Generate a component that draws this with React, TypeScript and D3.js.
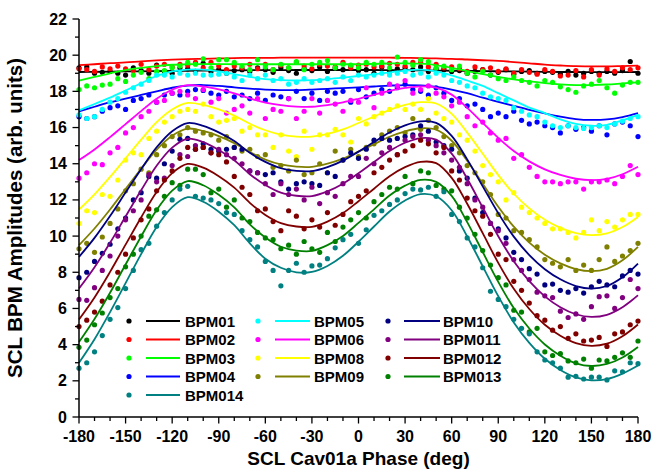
import React from 'react';
import * as d3 from 'd3';

// phases of the fitted curves and of the measured points (deg)
const fitPhase = [
  -180, -170, -160, -150, -140, -130, -120, -110, -100, -90,
  -80, -70, -60, -50, -40, -30, -20, -10, 0, 10,
  20, 30, 40, 50, 60, 70, 80, 90, 100, 110,
  120, 130, 140, 150, 160, 170, 180,
];
const dotPhase = [
  -180, -175, -170, -165, -160, -155, -150, -145, -140, -135, -130, -125,
  -120, -115, -110, -105, -100, -95, -90, -85, -80, -75, -70, -65,
  -60, -55, -50, -45, -40, -35, -30, -25, -20, -15, -10, -5,
  0, 5, 10, 15, 20, 25, 30, 35, 40, 45, 50, 55,
  60, 65, 70, 75, 80, 85, 90, 95, 100, 105, 110, 115,
  120, 125, 130, 135, 140, 145, 150, 155, 160, 165, 170, 175,
  180,
];

const bpm01Fit = [
  19.07, 19.08, 19.09, 19.1, 19.11, 19.12, 19.13, 19.14, 19.15, 19.16,
  19.16, 19.17, 19.17, 19.17, 19.18, 19.18, 19.18, 19.18, 19.18, 19.18,
  19.17, 19.17, 19.16, 19.15, 19.14, 19.13, 19.12, 19.11, 19.1, 19.09,
  19.08, 19.07, 19.07, 19.06, 19.06, 19.06, 19.07,
];
const bpm01Dots = [
  19.3, 19.35, 19.0, 19.05, 19.1, 19.0, 18.9, 19.3, 19.15, 19.0, 19.45, 19.1,
  19.0, 19.3, 19.25, 19.1, 19.55, 19.1, 19.2, 19.0, 19.15, 19.2, 19.1, 19.3,
  19.2, 19.05, 19.3, 19.15, 19.0, 19.25, 19.15, 19.35, 19.1, 19.3, 19.2, 19.4,
  19.15, 19.2, 19.0, 19.35, 19.1, 19.25, 19.3, 19.2, 19.35, 19.1, 19.25, 19.2,
  19.1, 19.15, 19.0, 19.1, 19.2, 18.9, 19.05, 19.2, 18.95, 19.1, 19.15, 19.0,
  19.1, 19.05, 18.95, 19.1, 18.9, 19.0, 19.1, 19.0, 19.1, 19.0, 19.15, 19.65,
  19.0,
];

const bpm02Fit = [
  19.45, 19.5, 19.56, 19.6, 19.66, 19.71, 19.75, 19.78, 19.8, 19.82,
  19.84, 19.85, 19.85, 19.86, 19.86, 19.86, 19.86, 19.86, 19.86, 19.86,
  19.86, 19.85, 19.84, 19.82, 19.8, 19.76, 19.72, 19.68, 19.62, 19.55,
  19.48, 19.43, 19.39, 19.38, 19.38, 19.4, 19.42,
];
const bpm02Dots = [
  19.25, 19.2, 19.1, 19.35, 19.25, 19.4, 19.25, 19.15, 19.5, 19.2, 19.4, 19.5,
  19.35, 19.5, 19.45, 19.6, 19.3, 19.6, 19.4, 19.2, 19.4, 19.3, 19.5, 19.25,
  19.5, 19.2, 19.45, 19.3, 19.6, 19.4, 19.25, 19.5, 19.4, 19.35, 19.6, 19.3,
  19.45, 19.5, 19.35, 19.4, 19.55, 19.5, 19.4, 19.6, 19.6, 19.35, 19.5, 19.3,
  19.35, 19.25, 19.1, 19.35, 19.2, 19.3, 19.1, 19.25, 19.0, 19.2, 19.05, 18.95,
  19.2, 19.1, 18.85, 18.9, 19.15, 18.8, 19.2, 18.9, 19.25, 19.1, 19.3, 19.2,
  19.3,
];

const bpm03Fit = [
  18.59, 18.8, 19.0, 19.18, 19.3, 19.4, 19.47, 19.5, 19.51, 19.51,
  19.5, 19.5, 19.5, 19.5, 19.5, 19.5, 19.5, 19.5, 19.5, 19.52,
  19.54, 19.55, 19.53, 19.45, 19.3, 19.12, 18.95, 18.8, 18.66, 18.55,
  18.46, 18.39, 18.35, 18.35, 18.38, 18.44, 18.5,
];
const bpm03Dots = [
  18.1, 18.3, 18.2, 18.35, 18.4, 18.7, 18.55, 18.9, 19.05, 18.7, 19.1, 19.15,
  19.3, 19.4, 19.6, 19.5, 19.8, 19.3, 19.75, 19.75, 19.6, 19.4, 19.2, 19.75,
  19.35, 19.2, 19.5, 19.3, 19.65, 19.2, 19.5, 19.6, 19.7, 19.3, 19.5, 19.45,
  19.3, 19.6, 19.5, 19.6, 19.3, 19.9, 19.6, 19.45, 19.75, 19.65, 19.3, 19.4,
  19.2, 19.4, 19.0, 18.8, 19.1, 18.9, 18.7, 18.6, 18.8, 18.6, 18.5, 18.3,
  18.6, 18.5, 18.25, 18.1, 17.95, 18.3, 18.4, 18.6, 18.2, 17.9, 18.35, 18.5,
  18.5,
];

const bpm04Fit = [
  16.9, 17.15, 17.4, 17.6, 17.8, 18.0, 18.2, 18.32, 18.35, 18.3,
  18.22, 18.15, 18.1, 18.07, 18.07, 18.1, 18.14, 18.18, 18.22, 18.27,
  18.32, 18.35, 18.33, 18.25, 18.1, 17.9, 17.65, 17.42, 17.2, 16.98,
  16.78, 16.6, 16.47, 16.42, 16.45, 16.58, 16.8,
];
const bpm04Dots = [
  16.6, 16.5, 16.6, 16.9, 17.1, 17.2, 17.0, 17.5, 17.6, 17.8, 17.4, 17.8,
  17.9, 17.8, 18.0, 18.1, 18.05, 17.9, 17.8, 18.0, 17.7, 17.8, 17.6, 17.9,
  17.5, 17.8, 17.7, 17.6, 18.0, 17.6, 17.9, 17.5, 18.0, 17.9, 18.0, 17.4,
  18.1, 17.7, 17.9, 18.1, 18.0, 18.2, 18.4, 18.1, 18.0, 17.8, 18.2, 17.9,
  17.5, 17.6, 17.2, 17.3, 17.0, 16.6, 16.8, 16.6, 16.9, 16.4, 16.2, 16.3,
  16.1, 16.0, 15.7, 16.1, 15.9, 16.0, 15.8, 16.1, 15.6, 16.2, 16.3, 16.1,
  15.5,
];

const bpm05Fit = [
  16.95, 17.3, 17.65, 18.05, 18.45, 18.85, 19.1, 19.2, 19.2, 19.1,
  18.95, 18.8, 18.68, 18.62, 18.6, 18.62, 18.68, 18.76, 18.85, 18.95,
  19.05, 19.15, 19.2, 19.1, 18.88, 18.6, 18.3, 17.9, 17.5, 17.1,
  16.8, 16.45, 16.2, 16.1, 16.15, 16.4, 16.7,
];
const bpm05Dots = [
  16.7, 16.5, 16.6, 17.0, 17.4, 17.6, 17.95, 18.2, 18.4, 18.6, 18.9, 18.9,
  18.8, 19.0, 18.9, 19.0, 18.9, 18.9, 18.95, 19.0, 18.8, 18.6, 18.9, 18.7,
  18.9, 18.6, 18.7, 18.4, 18.5, 18.7, 18.5, 18.6, 18.7, 18.5, 18.8, 18.6,
  18.9, 18.8, 18.9, 19.0, 18.9, 19.0, 19.1, 18.9, 19.0, 18.8, 19.0, 18.9,
  18.6, 18.5, 18.3, 18.2, 17.9, 17.7, 17.6, 17.5, 17.1, 16.9, 16.7, 16.6,
  16.3, 16.1, 16.0, 16.1, 16.0, 15.95, 16.0, 16.1, 16.0, 16.2, 16.35, 16.5,
  16.6,
];

const bpm06Fit = [
  14.2, 14.79, 15.47, 16.19, 16.91, 17.59, 18.09, 18.34, 18.27, 18.11,
  17.89, 17.61, 17.38, 17.24, 17.16, 17.15, 17.24, 17.39, 17.59, 17.81,
  18.03, 18.19, 18.28, 18.21, 17.82, 17.09, 16.26, 15.43, 14.7, 14.13,
  13.69, 13.38, 13.17, 13.09, 13.16, 13.42, 13.83,
];
const bpm06Dots = [
  13.2, 13.5, 14.0, 13.95, 14.6, 14.9, 15.7, 16.0, 16.6, 16.9, 17.4, 17.5,
  17.9, 18.0, 17.8, 17.6, 18.1, 17.4, 17.6, 16.8, 17.0, 17.2, 16.8, 17.6,
  16.5, 17.0, 16.9, 17.6, 16.5, 16.9, 17.6, 16.8, 17.5, 17.3, 16.9, 17.5,
  17.4, 18.2, 17.1, 17.9, 18.4, 18.3, 18.6, 17.9, 18.1, 18.3, 17.9, 17.7,
  17.2, 17.4, 16.6, 16.1, 16.3, 15.7, 15.3, 15.4, 14.3, 14.5, 13.8, 13.3,
  13.0, 13.0, 12.9, 13.0, 13.0, 12.6, 13.0, 13.0, 13.1, 12.9, 13.3, 13.9,
  13.4,
];

const bpm08Fit = [
  11.47, 12.31, 13.27, 14.3, 15.33, 16.3, 17.0, 17.36, 17.25, 17.0,
  16.66, 16.21, 15.85, 15.61, 15.5, 15.5, 15.65, 15.9, 16.25, 16.61,
  16.98, 17.25, 17.4, 17.33, 16.76, 15.72, 14.55, 13.37, 12.34, 11.53,
  10.9, 10.45, 10.16, 10.05, 10.15, 10.5, 11.06,
];
const bpm08Dots = [
  10.7, 11.4, 11.3, 12.3, 12.2, 13.1, 14.2, 14.6, 14.5, 15.4, 15.8, 16.3,
  16.6, 16.9, 17.0, 16.9, 17.3, 16.6, 16.3, 16.4, 16.5, 15.8, 16.0, 15.6,
  15.6, 14.9, 15.6, 14.7, 14.4, 15.8, 14.8, 15.6, 15.6, 15.9, 15.6, 15.2,
  16.5, 16.2, 16.6, 16.8, 17.0, 17.2, 17.0, 17.3, 17.0, 17.6, 16.8, 16.5,
  16.3, 15.6, 15.3, 14.7, 13.9, 13.4, 13.0, 12.0, 12.4, 11.6, 11.3, 11.0,
  10.7, 10.4, 10.4, 10.2, 9.9, 10.2, 10.9, 10.3, 10.8, 10.5, 10.9, 11.2,
  11.2,
];

const bpm09Fit = [
  9.5, 10.42, 11.47, 12.6, 13.72, 14.78, 15.55, 15.94, 15.81, 15.53,
  15.14, 14.64, 14.23, 13.96, 13.84, 13.83, 14.0, 14.28, 14.67, 15.08,
  15.49, 15.79, 15.96, 15.88, 15.27, 14.16, 12.89, 11.62, 10.52, 9.64,
  8.97, 8.49, 8.18, 8.06, 8.19, 8.66, 9.4,
];
const bpm09Dots = [
  9.3, 9.6, 9.1, 9.95, 10.7, 11.5, 12.5, 12.9, 13.7, 13.5, 14.5, 15.0,
  15.5, 15.6, 16.0, 15.8, 15.7, 15.6, 15.3, 15.5, 14.9, 14.7, 14.8, 14.4,
  14.5, 13.8, 13.9, 13.6, 14.2, 13.4, 13.5, 14.0, 13.5, 14.7, 14.2, 14.8,
  14.4, 14.9, 15.1, 15.6, 15.8, 16.0, 15.7, 16.5, 15.9, 16.4, 16.0, 15.5,
  15.0, 14.6, 13.9, 13.5, 13.0, 12.3, 11.2, 11.0, 10.3, 10.2, 9.8, 9.4,
  8.7, 8.5, 8.3, 8.7, 8.1, 8.4, 8.1, 8.7, 9.4, 8.6, 8.9, 9.2,
  9.6,
];

const bpm10Fit = [
  8.85, 9.9, 11.11, 12.41, 13.7, 14.91, 15.8, 16.25, 16.09, 15.73,
  15.25, 14.6, 14.1, 13.75, 13.6, 13.59, 13.81, 14.17, 14.67, 15.2,
  15.73, 16.12, 16.34, 16.26, 15.54, 14.24, 12.75, 11.27, 9.97, 8.95,
  8.17, 7.61, 7.24, 7.1, 7.24, 7.72, 8.48,
];
const bpm10Dots = [
  7.7, 8.0, 8.6, 9.05, 9.55, 10.4, 11.0, 12.0, 12.4, 13.3, 13.2, 14.0,
  14.7, 15.35, 15.4, 14.8, 15.1, 14.8, 14.7, 14.8, 14.9, 14.8, 13.6, 13.5,
  13.4, 13.5, 13.0, 12.6, 12.9, 13.0, 12.9, 12.8, 13.5, 13.3, 14.2, 14.6,
  14.3, 14.8, 15.3, 15.4, 15.3, 15.4, 15.5, 15.6, 16.1, 15.8, 15.2, 15.0,
  14.8, 13.6, 13.2, 12.1, 11.3, 10.7, 10.4, 9.9, 9.1, 8.7, 8.2, 7.9,
  7.3, 7.35, 7.0, 6.9, 7.1, 6.85, 7.2, 7.5, 7.3, 7.2, 7.8, 8.1,
  7.9,
];

const bpm011Fit = [
  7.1, 8.28, 9.63, 11.08, 12.53, 13.89, 14.89, 15.38, 15.19, 14.76,
  14.19, 13.42, 12.82, 12.4, 12.23, 12.21, 12.47, 12.89, 13.47, 14.09,
  14.7, 15.16, 15.42, 15.33, 14.56, 13.17, 11.58, 9.99, 8.61, 7.51,
  6.67, 6.07, 5.68, 5.53, 5.65, 6.07, 6.73,
];
const bpm011Dots = [
  6.5, 6.45, 7.15, 8.1, 8.9, 10.0, 10.9, 11.4, 12.0, 13.4, 13.0, 13.2,
  13.9, 14.5, 14.4, 15.0, 14.9, 14.6, 14.8, 14.5, 14.3, 14.0, 13.6, 13.5,
  12.9, 12.3, 12.9, 12.3, 12.6, 12.0, 12.7, 11.8, 12.4, 12.2, 12.9, 13.3,
  13.3, 14.3, 14.0, 14.6, 14.9, 14.5, 15.3, 15.5, 15.6, 15.3, 15.0, 14.6,
  14.2, 13.8, 12.9, 12.0, 11.6, 10.7, 10.3, 9.6, 8.7, 8.1, 7.6, 6.9,
  6.7, 6.6, 5.85, 5.5, 5.7, 5.4, 6.1, 6.65, 6.7, 6.0, 6.6, 7.6,
  7.1,
];

const bpm012Fit = [
  5.39, 6.61, 8.02, 9.53, 11.03, 12.44, 13.48, 13.99, 13.78, 13.31,
  12.68, 11.84, 11.17, 10.72, 10.53, 10.51, 10.8, 11.27, 11.93, 12.62,
  13.31, 13.81, 14.1, 14.03, 13.22, 11.79, 10.16, 8.52, 7.09, 5.97,
  5.1, 4.49, 4.08, 3.93, 4.05, 4.46, 5.11,
];
const bpm012Dots = [
  5.0, 5.35, 5.8, 6.4, 7.3, 8.0, 9.0, 9.9, 10.9, 11.5, 12.5, 13.1,
  13.6, 14.3, 14.9, 14.8, 14.9, 14.6, 14.5, 14.1, 13.3, 12.7, 12.3, 11.4,
  11.5, 10.8, 10.3, 11.4, 11.1, 10.4, 10.9, 10.5, 11.3, 10.6, 11.2, 11.9,
  12.2, 12.5, 13.5, 13.8, 14.2, 14.5, 14.7, 15.0, 15.3, 15.1, 14.6, 14.9,
  13.6, 13.1, 12.1, 11.4, 11.1, 10.1, 9.0, 8.7, 7.5, 7.0, 6.3, 5.6,
  5.35, 4.8, 5.0, 4.35, 4.6, 4.2, 4.25, 4.4, 3.9, 4.6, 4.7, 5.1,
  5.3,
];

const bpm013Fit = [
  4.15, 5.42, 6.87, 8.43, 9.98, 11.44, 12.51, 13.04, 12.81, 12.28,
  11.59, 10.65, 9.92, 9.41, 9.2, 9.18, 9.5, 10.01, 10.73, 11.48,
  12.24, 12.79, 13.11, 13.0, 12.22, 10.77, 9.12, 7.47, 6.02, 4.89,
  4.01, 3.39, 2.97, 2.82, 2.93, 3.29, 3.87,
];
const bpm013Dots = [
  3.85, 4.25, 5.1, 5.75, 6.6, 7.1, 8.3, 9.0, 10.0, 11.1, 11.45, 12.2,
  12.95, 12.8, 13.7, 13.7, 13.4, 12.4, 12.6, 11.6, 12.0, 11.0, 10.8, 10.2,
  9.9, 9.8, 9.3, 9.5, 9.0, 9.7, 9.3, 9.1, 10.2, 9.7, 10.5, 10.9,
  11.3, 11.0, 11.9, 12.3, 12.7, 12.6, 13.3, 12.9, 13.6, 13.5, 12.8, 12.6,
  12.5, 11.6, 11.0, 10.1, 9.2, 8.4, 7.7, 7.3, 5.9, 5.8, 4.7, 4.9,
  3.6, 3.4, 3.5, 3.1, 3.0, 3.2, 2.7, 3.15, 3.1, 3.3, 3.55, 3.3,
  4.2,
];

const bpm014Fit = [
  3.0, 4.3, 5.8, 7.4, 9.0, 10.5, 11.6, 12.15, 11.9, 11.35,
  10.6, 9.6, 8.75, 8.25, 8.0, 8.02, 8.35, 8.91, 9.69, 10.53,
  11.36, 11.97, 12.32, 12.2, 11.43, 9.98, 8.33, 6.68, 5.23, 4.1,
  3.22, 2.6, 2.19, 2.03, 2.1, 2.4, 2.85,
];
const bpm014Dots = [
  2.7, 3.0, 3.6, 4.5, 5.4, 6.05, 7.1, 8.1, 9.25, 9.6, 10.55, 11.3,
  12.0, 12.6, 12.75, 12.2, 12.1, 12.0, 11.8, 11.3, 11.2, 10.3, 9.8, 9.4,
  8.6, 8.1, 7.25, 8.1, 8.5, 8.0, 8.35, 8.4, 8.75, 9.35, 9.8, 10.1,
  9.6, 10.35, 11.15, 11.4, 11.75, 12.0, 12.35, 12.6, 12.55, 12.7, 12.2, 12.45,
  11.2, 10.8, 9.9, 9.4, 8.25, 6.95, 6.5, 6.1, 5.4, 4.9, 4.6, 3.6,
  3.15, 3.0, 2.7, 2.2, 2.25, 2.1, 2.2, 2.2, 2.05, 2.55, 2.5, 3.0,
  2.95,
];

const series = [
  { name: 'BPM01', color: '#000000', fit: bpm01Fit, dots: bpm01Dots },
  { name: 'BPM02', color: '#ff0000', fit: bpm02Fit, dots: bpm02Dots },
  { name: 'BPM03', color: '#00ff00', fit: bpm03Fit, dots: bpm03Dots },
  { name: 'BPM04', color: '#0000ff', fit: bpm04Fit, dots: bpm04Dots },
  { name: 'BPM05', color: '#00ffff', fit: bpm05Fit, dots: bpm05Dots },
  { name: 'BPM06', color: '#ff00ff', fit: bpm06Fit, dots: bpm06Dots },
  { name: 'BPM08', color: '#ffff00', fit: bpm08Fit, dots: bpm08Dots },
  { name: 'BPM09', color: '#808000', fit: bpm09Fit, dots: bpm09Dots },
  { name: 'BPM10', color: '#000080', fit: bpm10Fit, dots: bpm10Dots },
  { name: 'BPM011', color: '#800080', fit: bpm011Fit, dots: bpm011Dots },
  { name: 'BPM012', color: '#800000', fit: bpm012Fit, dots: bpm012Dots },
  { name: 'BPM013', color: '#008000', fit: bpm013Fit, dots: bpm013Dots },
  { name: 'BPM014', color: '#008080', fit: bpm014Fit, dots: bpm014Dots },
];

const xTicks = [-180, -150, -120, -90, -60, -30, 0, 30, 60, 90, 120, 150, 180];
const yTicks = [0, 2, 4, 6, 8, 10, 12, 14, 16, 18, 20, 22];
const legendColumns = [
  ['BPM01', 'BPM02', 'BPM03', 'BPM04', 'BPM014'],
  ['BPM05', 'BPM06', 'BPM08', 'BPM09'],
  ['BPM10', 'BPM011', 'BPM012', 'BPM013'],
];

const width = 662;
const height = 470;
const margin = { top: 19, right: 24, bottom: 53, left: 79 };
const font = "'Liberation Sans', Arial, sans-serif";

const x = d3.scaleLinear().domain([-180, 180]).range([margin.left, width - margin.right]);
const y = d3.scaleLinear().domain([0, 22]).range([height - margin.bottom, margin.top]);

const line = d3.line<number>()
  .x((_, i) => x(fitPhase[i]))
  .y(d => y(d))
  .curve(d3.curveCatmullRom.alpha(0.5));

// legend layout (px)
const legendCol = [
  { dot: 129, x1: 146, x2: 180, text: 185 },
  { dot: 258, x1: 275, x2: 310, text: 314 },
  { dot: 388, x1: 404, x2: 440, text: 443 },
];
const legendTop = 321;
const legendStep = 18.5;

const App = () => {
  const x0 = margin.left;
  const y0 = height - margin.bottom;
  const colorOf = (name: string) => series.find(s => s.name === name)!.color;

  return (
    <svg width={width} height={height} style={{ position: 'absolute', left: 0, top: 0, background: '#fff' }}>
      {/* data */}
      {series.map(s => (
        <g key={s.name}>
          {s.dots.map((v, i) => (
            <circle key={i} cx={x(dotPhase[i])} cy={y(v)} r={2.6} fill={s.color} />
          ))}
          <path d={line(s.fit) ?? ''} fill="none" stroke={s.color} strokeWidth={1.8} />
        </g>
      ))}

      {/* y axis */}
      <line x1={x0} x2={x0} y1={y(22)} y2={y0} stroke="#000" strokeWidth={1.5} />
      {y.ticks(22).map(t => (
        <line key={'ym' + t} x1={x0} x2={x0 - (t % 2 === 0 ? 6.5 : 4)} y1={y(t)} y2={y(t)} stroke="#000" strokeWidth={1.3} />
      ))}
      {yTicks.map(t => (
        <text key={'yl' + t} x={x0 - 12} y={y(t) + 5.5} textAnchor="end" fontFamily={font} fontWeight="bold" fontSize={16}>
          {t}
        </text>
      ))}

      {/* x axis */}
      <line x1={x0} x2={width - margin.right} y1={y0} y2={y0} stroke="#000" strokeWidth={1.5} />
      {x.ticks(36).map(t => (
        <line key={'xm' + t} x1={x(t)} x2={x(t)} y1={y0} y2={y0 + (t % 30 === 0 ? 6.5 : 4)} stroke="#000" strokeWidth={1.3} />
      ))}
      {xTicks.map(t => (
        <text key={'xl' + t} x={x(t)} y={y0 + 25} textAnchor="middle" fontFamily={font} fontWeight="bold" fontSize={16}>
          {t}
        </text>
      ))}

      {/* titles */}
      <text x={(x0 + width - margin.right) / 2} y={465} textAnchor="middle" fontFamily={font} fontWeight="bold" fontSize={19}>
        SCL Cav01a Phase (deg)
      </text>
      <text transform={`translate(22,${(y(22) + y0) / 2}) rotate(-90)`} textAnchor="middle" fontFamily={font} fontWeight="bold" fontSize={20.5}>
        SCL BPM Amplitudes (arb. units)
      </text>

      {/* legend */}
      {legendColumns.map((col, ci) =>
        col.map((name, ri) => {
          const ly = legendTop + ri * legendStep;
          const c = legendCol[ci];
          return (
            <g key={name}>
              <circle cx={c.dot} cy={ly} r={2.6} fill={colorOf(name)} />
              <line x1={c.x1} x2={c.x2} y1={ly} y2={ly} stroke={colorOf(name)} strokeWidth={1.8} />
              <text x={c.text} y={ly + 5.5} fontFamily={font} fontWeight="bold" fontSize={15}>
                {name}
              </text>
            </g>
          );
        })
      )}
    </svg>
  );
};

export default App;
